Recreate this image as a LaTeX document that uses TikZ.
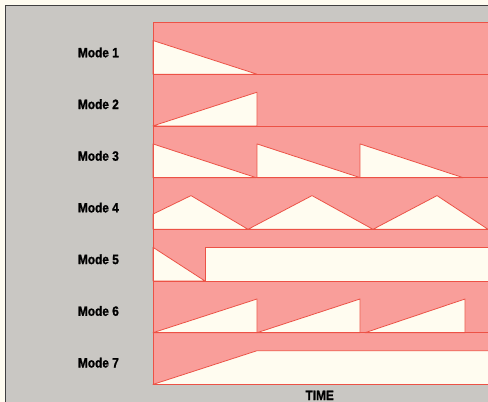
\documentclass[tikz,border=0pt]{standalone}
\usepackage{fontspec}
\newfontfamily\modefont[FakeStretch=0.88,BoldFeatures={FakeBold=1.2}]{Liberation Sans}
\usetikzlibrary{positioning}
\definecolor{paper}{RGB}{201,199,195}
\definecolor{envpink}{RGB}{249,158,154}
\definecolor{envred}{RGB}{236,82,70}
\definecolor{cream}{RGB}{255,252,240}

\begin{document}
\begin{tikzpicture}[x=1pt,y=-1pt,
	wave/.style={fill=cream,draw=envred,line width=.8pt,line join=round},%
	modelabel/.style={font=\modefont\bfseries\fontsize{13.5}{14}\selectfont,anchor=base,inner sep=0pt}]
	\useasboundingbox (0,0) rectangle (488,402);
	\fill[cream] (0,0) rectangle (488,402);
	\fill[paper] (5,5) rectangle (488,402);
	\draw[black!75,line width=.9pt] (5,402)--(5,5)--(488,5);
	
	% envelope strip
	\fill[envpink] (153,22.5) rectangle (488,384.4);
	
	\def\h{51.7}
	\def\p{18}
	% mode 1
	\begin{scope}[shift={(153,22.5)}]
		\draw[wave] (0,\p)--(104,\h)--(0,\h)--cycle;
	\end{scope}
	% mode 2
	\begin{scope}[shift={(153,74.2)}]
		\draw[wave] (0,\h)--(104,\p)--(104,\h)--cycle;
	\end{scope}
	% mode 3
	\begin{scope}[shift={(153,125.9)}]
		\foreach \s in {0,104,207}{
			\draw[wave] (\s,\p)--(\s+103,\h)--(\s,\h)--cycle;
		}
	\end{scope}
	% mode 4
	\begin{scope}[shift={(153,177.6)}]
		\draw[wave] (0,\h)--(0,36.5)--(38,\p)--(95,\h)--(159,\p)--(220,\h)--(284,\p)--(335,\h)--cycle;
	\end{scope}
	% mode 5
	\begin{scope}[shift={(153,229.3)}]
		\draw[wave] (0,\p)--(52,\h)--(0,\h)--cycle;
		\draw[wave] (52,\p) rectangle (340,\h);
	\end{scope}
	% mode 6
	\begin{scope}[shift={(153,281)}]
		\foreach \s/\e in {0/104,104/207,212/312}{
			\draw[wave] (\s,\h)--(\e,\p)--(\e,\h)--cycle;
		}
	\end{scope}
	% mode 7
	\begin{scope}[shift={(153,332.7)}]
		\draw[wave] (0,\h)--(104,\p)--(340,\p)--(340,\h)--cycle;
	\end{scope}
	
	\foreach \k in {0,...,7}{
		\draw[envred,line width=.8pt] (153,22.5+\k*\h)--(488,22.5+\k*\h);
	}
	\draw[envred,line width=.8pt] (153,22.5)--(153,384.4);
	
	\foreach \k in {1,...,7}{
		\node[modelabel] (mode\k) at (98.4,57.3+\k*\h-\h) {Mode \k};
	}
	\node[modelabel] (time) at (319.7,400) {TIME};
\end{tikzpicture}
\end{document}
